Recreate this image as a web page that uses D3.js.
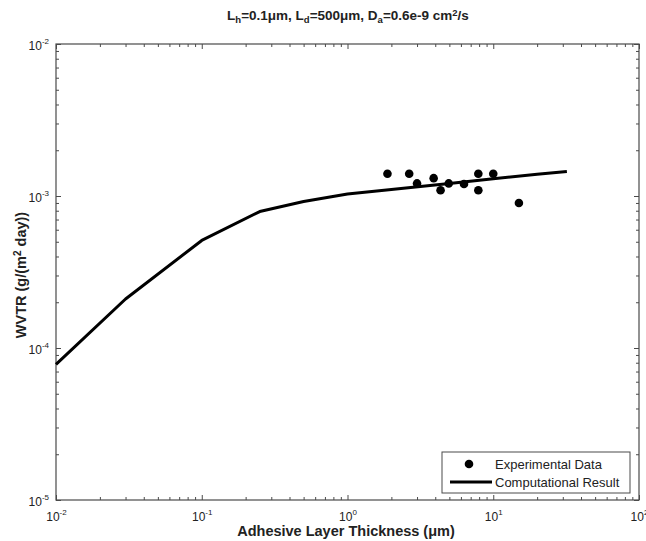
<!DOCTYPE html>
<html>
<head>
<meta charset="utf-8">
<script src="https://cdn.jsdelivr.net/npm/d3@7"></script>
<style>
  html, body { margin: 0; padding: 0; background: #fff; }
  svg { display: block; font-family: "Liberation Sans", Arial, sans-serif; }
</style>
</head>
<body>
<svg id="chart" width="646" height="541"></svg>
<script>
// Computational result: WVTR vs adhesive layer thickness
const thickness = [0.01, 0.03, 0.1, 0.25, 0.5, 1, 2, 5, 10, 20, 32];
const wvtrModel = [7.8e-5, 2.1e-4, 5.1e-4, 7.9e-4, 9.2e-4, 1.03e-3, 1.105e-3, 1.21e-3, 1.3e-3, 1.39e-3, 1.45e-3];

// Experimental measurements
const expThickness = [1.88, 2.65, 3.0, 3.9, 4.35, 4.95, 6.3, 7.9, 7.9, 10.0, 15.0];
const expWvtr = [1.4e-3, 1.4e-3, 1.21e-3, 1.31e-3, 1.09e-3, 1.21e-3, 1.2e-3, 1.4e-3, 1.09e-3, 1.4e-3, 9.0e-4];

// Axis decades (exponents of 10)
const xDecades = [-2, -1, 0, 1, 2];
const yDecades = [-5, -4, -3, -2];

const svg = d3.select("#chart");
const m = { left: 56, right: 639, top: 44, bottom: 500 };
const axisColor = "#4a4a4a";

const x = d3.scaleLog().domain([1e-2, 1e2]).range([m.left, m.right]);
const y = d3.scaleLog().domain([1e-5, 1e-2]).range([m.bottom, m.top]);

const majorX = xDecades.map(e => Math.pow(10, e));
const majorY = yDecades.map(e => Math.pow(10, e));
function minors(decades) {
  const out = [];
  for (let i = 0; i < decades.length - 1; i++)
    for (let k = 2; k <= 9; k++) out.push(k * Math.pow(10, decades[i]));
  return out;
}
const minorX = minors(xDecades);
const minorY = minors(yDecades);

// frame
svg.append("rect")
  .attr("x", m.left).attr("y", m.top)
  .attr("width", m.right - m.left).attr("height", m.bottom - m.top)
  .attr("fill", "none").attr("stroke", axisColor).attr("stroke-width", 1.2);

function styleAxis(g) {
  g.select(".domain").remove();
  g.selectAll("line").attr("stroke", axisColor).attr("stroke-width", 1);
}

// inward ticks on all four sides
const tickSpecs = [
  [d3.axisBottom(x), m.bottom, null, majorX, minorX],
  [d3.axisTop(x), m.top, null, majorX, minorX],
  [d3.axisLeft(y), null, m.left, majorY, minorY],
  [d3.axisRight(y), null, m.right, majorY, minorY]
];
tickSpecs.forEach(([ax, ty, tx, maj, min]) => {
  const t = `translate(${tx === null ? 0 : tx},${ty === null ? 0 : ty})`;
  svg.append("g").attr("transform", t)
    .call(ax.tickValues(maj).tickSize(-5).tickFormat(""))
    .call(styleAxis);
  svg.append("g").attr("transform", t)
    .call(ax.tickValues(min).tickSize(-3).tickFormat(""))
    .call(styleAxis);
});

// power-of-ten labels with superscript exponents
function powLabel(sel) {
  sel.each(function(d) {
    const t = d3.select(this).text("");
    const e = Math.round(Math.log10(d));
    t.append("tspan").text("10");
    t.append("tspan").attr("dy", "-0.7em").attr("font-size", "8px").text(String(e));
  });
}

const xl = svg.append("g").attr("transform", `translate(0,${m.bottom})`)
  .call(d3.axisBottom(x).tickValues(majorX).tickSize(0).tickPadding(12).tickFormat(d => d));
xl.select(".domain").remove();
xl.selectAll("text").attr("font-size", "12px").attr("fill", "#222")
  .attr("font-family", "Liberation Sans, Arial, sans-serif")
  .call(powLabel);

const yl = svg.append("g").attr("transform", `translate(${m.left},0)`)
  .call(d3.axisLeft(y).tickValues(majorY).tickSize(0).tickPadding(7).tickFormat(d => d));
yl.select(".domain").remove();
yl.selectAll("text").attr("font-size", "12px").attr("fill", "#222")
  .attr("font-family", "Liberation Sans, Arial, sans-serif")
  .attr("dy", "0.45em")
  .call(powLabel);

// model curve
const line = d3.line().x((d, i) => x(thickness[i])).y(d => y(d));
svg.append("path")
  .attr("d", line(wvtrModel))
  .attr("fill", "none").attr("stroke", "#000").attr("stroke-width", 3)
  .attr("stroke-linejoin", "round");

// experimental points
svg.append("g").selectAll("circle")
  .data(expWvtr)
  .join("circle")
  .attr("cx", (d, i) => x(expThickness[i]))
  .attr("cy", d => y(d))
  .attr("r", 4.3)
  .attr("fill", "#000");

// title
const title = svg.append("text")
  .attr("x", 348).attr("y", 20).attr("text-anchor", "middle")
  .attr("font-size", "13.5px").attr("font-weight", "bold").attr("fill", "#222");
const sub = (txt) => title.append("tspan").attr("font-size", "9.5px").attr("dy", "3").text(txt);
const base = (txt) => title.append("tspan").attr("dy", "-3").text(txt);
title.append("tspan").text("L");
sub("h");
base("=0.1μm, L");
sub("d");
base("=500μm, D");
sub("a");
base("=0.6e-9 cm");
title.append("tspan").attr("font-size", "9.5px").attr("dy", "-4").text("2");
title.append("tspan").attr("dy", "4").text("/s");

// axis labels
svg.append("text")
  .attr("x", 346).attr("y", 536).attr("text-anchor", "middle")
  .attr("font-size", "14.5px").attr("font-weight", "bold").attr("fill", "#222")
  .text("Adhesive Layer Thickness (μm)");

const ylab = svg.append("text")
  .attr("transform", "translate(26,275) rotate(-90)")
  .attr("text-anchor", "middle")
  .attr("font-size", "14.5px").attr("font-weight", "bold").attr("fill", "#222");
ylab.append("tspan").text("WVTR (g/(m");
ylab.append("tspan").attr("font-size", "10px").attr("dy", "-5").text("2");
ylab.append("tspan").attr("dy", "5").text(" day))");

// legend
const lg = svg.append("g");
lg.append("rect")
  .attr("x", 442).attr("y", 452).attr("width", 188).attr("height", 41)
  .attr("fill", "#fff").attr("stroke", axisColor).attr("stroke-width", 1);
lg.append("circle").attr("cx", 469).attr("cy", 464).attr("r", 4.3).attr("fill", "#000");
lg.append("line").attr("x1", 450).attr("x2", 492).attr("y1", 482).attr("y2", 482)
  .attr("stroke", "#000").attr("stroke-width", 3);
lg.append("text").attr("x", 495).attr("y", 468.5).attr("font-size", "13px").attr("fill", "#222")
  .text("Experimental Data");
lg.append("text").attr("x", 495).attr("y", 487).attr("font-size", "13px").attr("fill", "#222")
  .text("Computational Result");
</script>
</body>
</html>
